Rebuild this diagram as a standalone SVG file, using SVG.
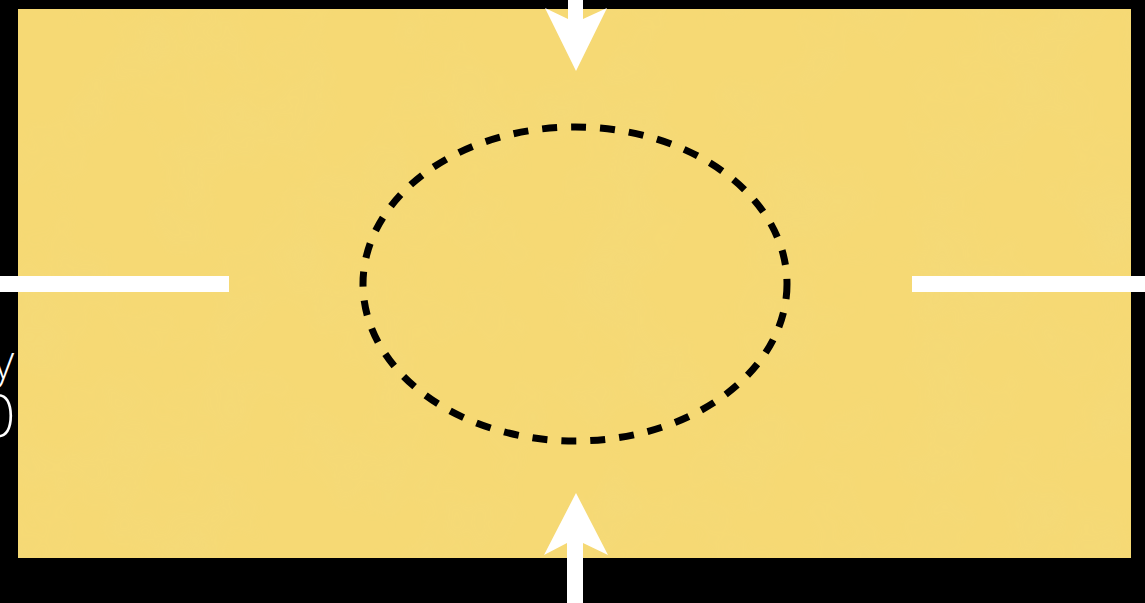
<svg xmlns="http://www.w3.org/2000/svg" width="1145" height="603" viewBox="0 0 1145 603">
<defs>
<style>
.bar{fill:#ffffff}
.ring{fill:none;stroke:#000;stroke-width:7;stroke-dasharray:15 14}
.lbl{font-family:Inter,"Liberation Sans",sans-serif;font-weight:200;fill:#fff}
</style>
<filter id="tex" x="0" y="0" width="100%" height="100%">
<feTurbulence type="fractalNoise" baseFrequency="0.012" numOctaves="3" seed="4"/>
<feColorMatrix type="matrix" values="0 0 0 0 0.85  0 0 0 0 0.72  0 0 0 0 0.25  0 0 0 1.2 -0.45"/>
</filter>
</defs>
<rect x="0" y="0" width="1145" height="603" fill="#000"/>
<g id="sheet">
<rect x="18" y="9" width="1113" height="549" fill="#f6d974"/>
<rect x="18" y="9" width="1113" height="549" filter="url(#tex)" opacity="0.3"/>
</g>
<g id="left-label">
<text class="lbl" x="16" y="378" font-size="46" text-anchor="end">y</text>
<text class="lbl" x="16" y="437" font-size="58" text-anchor="end">0</text>
</g>
<g id="zone">
<ellipse class="ring" cx="575" cy="284" rx="212" ry="157"/>
</g>
<g id="connectors">
<rect class="bar" x="0" y="276" width="229" height="16"/>
<rect class="bar" x="912" y="276" width="233" height="16"/>
<polygon class="bar" points="568,0 583,0 583,19 607,8 576,71 545,8 568,19"/>
<polygon class="bar" points="567,603 583,603 583,543 608,555 576,493 544,555 567,543"/>
</g>
</svg>
